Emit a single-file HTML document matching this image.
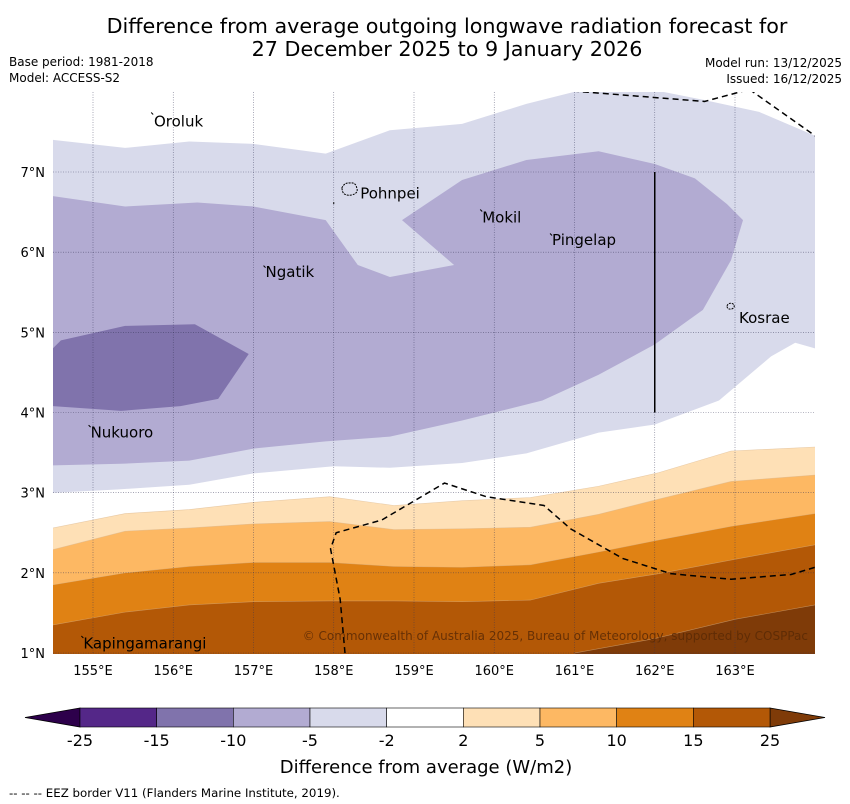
<!DOCTYPE html>
<html><head><meta charset="utf-8"><style>
body{margin:0;background:#fff}
svg{display:block;font-family:"DejaVu Sans","Liberation Sans",sans-serif}
</style></head><body>
<svg id="s" width="850" height="804" viewBox="0 0 850 804">
<text x="447" y="33" font-size="20.7" text-anchor="middle">Difference from average outgoing longwave radiation forecast for</text>
<text x="447" y="56" font-size="20.7" text-anchor="middle">27 December 2025 to 9 January 2026</text>
<text x="9" y="66" font-size="12">Base period: 1981-2018</text>
<text x="9" y="82" font-size="12">Model: ACCESS-S2</text>
<text x="842" y="67" font-size="12" text-anchor="end">Model run: 13/12/2025</text>
<text x="842" y="83" font-size="12" text-anchor="end">Issued: 16/12/2025</text>
<defs><clipPath id="mc"><rect x="53" y="92" width="762" height="562"/></clipPath></defs>
<g id="map" clip-path="url(#mc)"></g>
<g id="over"></g>
<g id="cb"></g>
<text x="426" y="773" font-size="18" text-anchor="middle">Difference from average (W/m2)</text>
<text x="9" y="797" font-size="11.8">--  --  -- EEZ border V11 (Flanders Marine Institute, 2019).</text>
</svg>
<script>
const lonTicks=[155,156,157,158,159,160,161,162,163];
const latTicks=[1,2,3,4,5,6,7];
const cbLevels=["-25","-15","-10","-5","-2","2","5","10","15","25"];
const cbColors=["#542788","#8073ac","#b2abd2","#d8daeb","#ffffff","#fee0b6","#fdb863","#e08214","#b35806"];
// contour polygons in [lon,lat]
const lightPurple=[[154.5,7.4],[155.4,7.3],[156.2,7.38],[157,7.35],[157.9,7.23],[158.7,7.52],[159.6,7.6],[160.4,7.85],[161,8],[162,8.02],[162.6,7.9],[163.3,7.75],[164,7.45],[164,4.8],[163.75,4.87],[163.45,4.7],[162.8,4.15],[162,3.85],[161.3,3.75],[160.4,3.49],[159.6,3.37],[158.7,3.31],[158,3.33],[157,3.24],[156.2,3.1],[155.3,3.04],[154.5,3.0]];
const midPurple=[[154.5,6.7],[155.4,6.57],[156.3,6.62],[157,6.57],[157.9,6.4],[158.3,5.84],[158.7,5.69],[159.5,5.84],[158.85,6.4],[159.6,6.9],[160.4,7.15],[161.3,7.26],[162,7.1],[162.5,6.92],[162.9,6.6],[163.1,6.4],[162.95,5.9],[162.6,5.28],[162,4.85],[161.3,4.47],[160.6,4.15],[159.6,3.9],[158.7,3.7],[157.9,3.64],[157,3.55],[156.2,3.4],[155.35,3.36],[154.5,3.34]];
const darkPurple=[[154.5,4.8],[154.6,4.9],[155.4,5.08],[156.27,5.1],[156.94,4.73],[156.56,4.17],[156.09,4.08],[155.35,4.02],[154.5,4.08]];
const xs=[154.5,155.4,156.2,157,157.95,158.75,159.6,160.45,161.3,162.05,162.95,164];
const o2=[2.56,2.74,2.79,2.88,2.95,2.84,2.9,2.94,3.08,3.25,3.52,3.57];
const o5=[2.29,2.52,2.56,2.61,2.64,2.54,2.55,2.57,2.73,2.92,3.14,3.22];
const o10=[1.85,2.0,2.08,2.13,2.13,2.08,2.07,2.1,2.26,2.41,2.58,2.74];
const o15=[1.35,1.51,1.6,1.64,1.65,1.65,1.64,1.66,1.87,1.99,2.16,2.35];
const xs25=[161,162,163,164];
const o25=[1.0,1.18,1.42,1.6];
const eezSouth=[[158.14,1],[158.08,1.67],[157.96,2.3],[158.03,2.5],[158.6,2.66],[159.38,3.12],[159.9,2.95],[160.62,2.84],[160.95,2.55],[161.6,2.18],[162.2,1.99],[162.95,1.92],[163.7,1.98],[164,2.07]];
const eezNorth1=[[160.98,8.01],[162.62,7.88],[163.18,8.03]];
const eezNorth2=[[163.18,8.03],[164,7.45]];
const islands=[["Oroluk",155.76,7.63,155.75,7.73],["Pohnpei",158.33,6.73,null,null],["Mokil",159.85,6.43,159.85,6.52],["Pingelap",160.72,6.15,160.72,6.22],["Ngatik",157.15,5.75,157.15,5.82],["Kosrae",163.05,5.18,null,null],["Nukuoro",154.97,3.75,154.97,3.83],["Kapingamarangi",154.88,1.12,154.88,1.2]];
const X=l=>93+(l-155)*80.25, Y=t=>172+(7-t)*80.17;
const NS="http://www.w3.org/2000/svg";
function mk(tag,parent,attrs){const e=document.createElementNS(NS,tag);for(const k in attrs)e.setAttribute(k,attrs[k]);parent.appendChild(e);return e;}
const map=document.getElementById('map'), over=document.getElementById('over'), cb=document.getElementById('cb');
const bg=mk('rect',map,{x:53,y:92,width:762,height:562,fill:'#fff'});


function poly(pts,fill,name){const p=mk('polygon',map,{points:pts.map(q=>X(q[0]).toFixed(1)+','+Y(q[1]).toFixed(1)).join(' '),fill:fill});

}
poly(lightPurple,'#d8daeb','contour-minus5-minus2');
poly(midPurple,'#b2abd2','contour-minus10-minus5');
poly(darkPurple,'#8073ac','contour-minus15-minus10');
function band(ys,lons,fill,name){const pts=lons.map((l,i)=>[l,ys[i]]);pts.push([lons[lons.length-1],0.9],[lons[0],0.9]);poly(pts,fill,name);
const ln=mk('polyline',map,{points:lons.map((l,i)=>X(l)+','+Y(ys[i])).join(' '),fill:'none',stroke:'#d9b48a','stroke-width':0.6,opacity:0.6});

}
band(o2,xs,'#fee0b6','contour-2-5');
band(o5,xs,'#fdb863','contour-5-10');
band(o10,xs,'#e08214','contour-10-15');
band(o15,xs,'#b35806','contour-15-25');
band(o25,xs25,'#7f3b08','contour-above-25');
lonTicks.forEach(l=>{const g=mk('line',map,{x1:X(l),x2:X(l),y1:92,y2:654,stroke:'#335',"stroke-width":0.6,"stroke-dasharray":"1,1.5",opacity:0.7});


const t=mk('text',over,{x:X(l),y:675,'font-size':13,'text-anchor':'middle'});t.textContent=l+'°E';

});
latTicks.forEach(t0=>{const g=mk('line',map,{x1:53,x2:815,y1:Y(t0),y2:Y(t0),stroke:'#335',"stroke-width":0.6,"stroke-dasharray":"1,1.5",opacity:0.7});


const t=mk('text',over,{x:45,y:Y(t0)+5,'font-size':13,'text-anchor':'end'});t.textContent=t0+'°N';

});
const vl=mk('line',map,{x1:X(162),x2:X(162),y1:Y(7),y2:Y(4),stroke:'#000','stroke-width':1.5});


[eezSouth,eezNorth1,eezNorth2].forEach(a=>{const e=mk('polyline',map,{points:a.map(q=>X(q[0])+','+Y(q[1])).join(' '),fill:'none',stroke:'#000','stroke-width':1.5,'stroke-dasharray':'6,4'});

});
const ph=mk('path',map,{d:`M${X(158.1)},${Y(6.8)} q3,-6 8,-5 q6,-1 7,5 q2,5 -5,7 q-7,1 -9,-3 z M${X(158)},${Y(6.6)} l0,-3`,fill:'none',stroke:'#000','stroke-width':1,'stroke-dasharray':'2,1'});


const ko=mk('path',map,{d:`M${X(162.9)},${Y(5.33)} q2,-4 6,-2 q3,3 -1,5 q-5,1 -5,-3 z`,fill:'none',stroke:'#000','stroke-width':1,'stroke-dasharray':'2,1'});


islands.forEach(d=>{const t=mk('text',over,{x:X(d[1]),y:Y(d[2])+5,'font-size':15});t.textContent=d[0];


if(d[3]!==null){const m=mk('line',over,{x1:X(d[3])-2,y1:Y(d[4])-1,x2:X(d[3]),y2:Y(d[4])+1,stroke:'#000','stroke-width':1});

}});
const cp=mk('text',over,{x:808,y:640,'font-size':12,'text-anchor':'end',fill:'#5a2a05',opacity:0.85});cp.textContent='© Commonwealth of Australia 2025, Bureau of Meteorology, supported by COSPPac';


// colorbar
const cx0=80,cx1=770,cyT=708,cyB=727,sw=(cx1-cx0)/cbColors.length;
const lt=mk('polygon',cb,{points:`${cx0},${cyT} 25,${(cyT+cyB)/2} ${cx0},${cyB}`,fill:'#2d004b',stroke:'#000','stroke-width':0.8});


const rt=mk('polygon',cb,{points:`${cx1},${cyT} 825,${(cyT+cyB)/2} ${cx1},${cyB}`,fill:'#7f3b08',stroke:'#000','stroke-width':0.8});


cbColors.forEach((c,i)=>{const r=mk('rect',cb,{x:cx0+i*sw,y:cyT,width:sw,height:cyB-cyT,fill:c,stroke:'#000','stroke-width':0.6});

});
cbLevels.forEach((l,i)=>{const t=mk('text',cb,{x:cx0+i*sw,y:746,'font-size':16,'text-anchor':'middle'});t.textContent=l;

});
</script>
</body></html>
